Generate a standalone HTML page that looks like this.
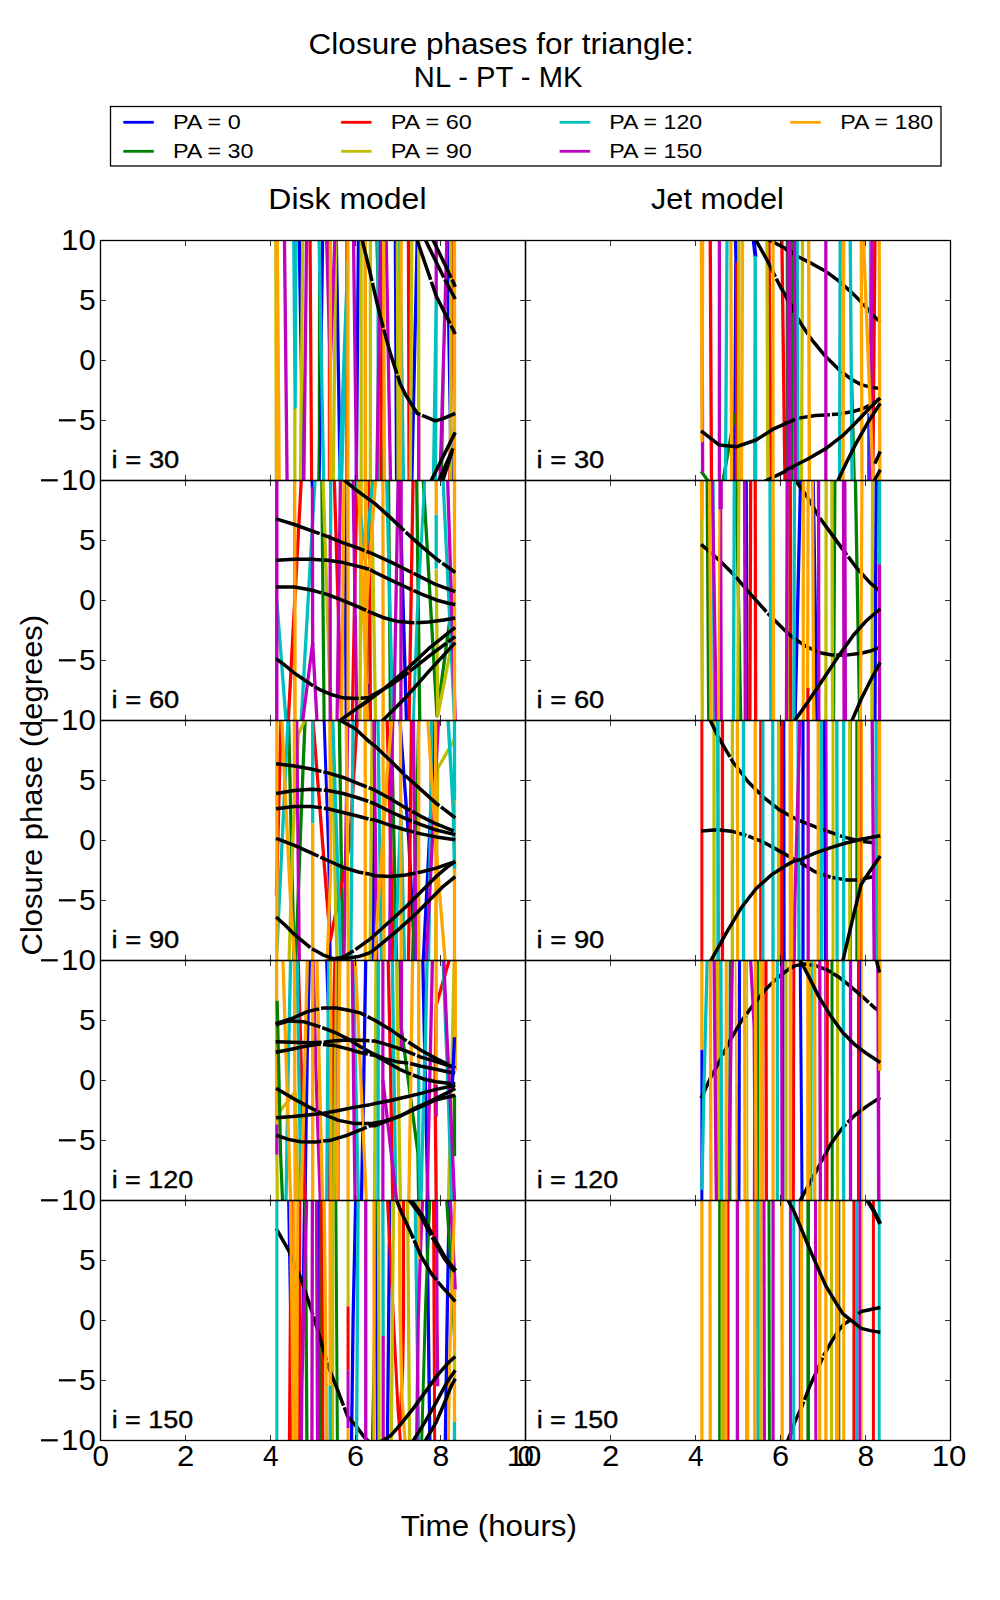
<!DOCTYPE html>
<html><head><meta charset="utf-8"><title>Closure phases</title>
<style>
html,body{margin:0;padding:0;background:#fff;}
body{width:1000px;height:1600px;overflow:hidden;}
svg{display:block;font-family:"Liberation Sans",sans-serif;}
text{fill:#000;}
.ln{fill:none;stroke-linejoin:round;stroke-linecap:butt;}
</style></head><body>
<svg width="1000" height="1600" viewBox="0 0 1000 1600">
<rect x="0" y="0" width="1000" height="1600" fill="#fff"/>

<defs>
<clipPath id="cp00"><rect x="100.5" y="240.5" width="425" height="240"/></clipPath>
<clipPath id="cp01"><rect x="525.5" y="240.5" width="425" height="240"/></clipPath>
<clipPath id="cp10"><rect x="100.5" y="480.5" width="425" height="240"/></clipPath>
<clipPath id="cp11"><rect x="525.5" y="480.5" width="425" height="240"/></clipPath>
<clipPath id="cp20"><rect x="100.5" y="720.5" width="425" height="240"/></clipPath>
<clipPath id="cp21"><rect x="525.5" y="720.5" width="425" height="240"/></clipPath>
<clipPath id="cp30"><rect x="100.5" y="960.5" width="425" height="240"/></clipPath>
<clipPath id="cp31"><rect x="525.5" y="960.5" width="425" height="240"/></clipPath>
<clipPath id="cp40"><rect x="100.5" y="1200.5" width="425" height="240"/></clipPath>
<clipPath id="cp41"><rect x="525.5" y="1200.5" width="425" height="240"/></clipPath>
</defs>
<text x="308.62" y="54.4" font-size="28.6" textLength="385.27" lengthAdjust="spacingAndGlyphs">Closure phases for triangle:</text>
<text x="413.87" y="87.2" font-size="28.6" textLength="168.53" lengthAdjust="spacingAndGlyphs">NL - PT - MK</text>
<text x="268.34" y="208.5" font-size="28.6" textLength="158.17" lengthAdjust="spacingAndGlyphs">Disk model</text>
<text x="651.04" y="208.5" font-size="28.6" textLength="132.87" lengthAdjust="spacingAndGlyphs">Jet model</text>
<rect x="110.5" y="106.5" width="830.5" height="59.5" fill="#fff" stroke="#000" stroke-width="1.3"/>
<line x1="123.3" y1="122.3" x2="153.8" y2="122.3" stroke="#0000ff" stroke-width="2.8"/>
<text x="172.93" y="129.4" font-size="20.4" textLength="67.8" lengthAdjust="spacingAndGlyphs">PA = 0</text>
<line x1="123.3" y1="151.3" x2="153.8" y2="151.3" stroke="#008000" stroke-width="2.8"/>
<text x="172.93" y="158.4" font-size="20.4" textLength="80.62" lengthAdjust="spacingAndGlyphs">PA = 30</text>
<line x1="341.1" y1="122.3" x2="371.6" y2="122.3" stroke="#ff0000" stroke-width="2.8"/>
<text x="390.72" y="129.4" font-size="20.4" textLength="81.03" lengthAdjust="spacingAndGlyphs">PA = 60</text>
<line x1="341.1" y1="151.3" x2="371.6" y2="151.3" stroke="#bfbf00" stroke-width="2.8"/>
<text x="390.72" y="158.4" font-size="20.4" textLength="81.03" lengthAdjust="spacingAndGlyphs">PA = 90</text>
<line x1="559.6" y1="122.3" x2="590.1" y2="122.3" stroke="#00bfbf" stroke-width="2.8"/>
<text x="609.25" y="129.4" font-size="20.4" textLength="92.93" lengthAdjust="spacingAndGlyphs">PA = 120</text>
<line x1="559.6" y1="151.3" x2="590.1" y2="151.3" stroke="#bf00bf" stroke-width="2.8"/>
<text x="609.25" y="158.4" font-size="20.4" textLength="92.93" lengthAdjust="spacingAndGlyphs">PA = 150</text>
<line x1="790.2" y1="122.3" x2="820.7" y2="122.3" stroke="#ffa500" stroke-width="2.8"/>
<text x="840.25" y="129.4" font-size="20.4" textLength="92.93" lengthAdjust="spacingAndGlyphs">PA = 180</text>
<text x="400.67" y="1535.6" font-size="28.6" textLength="176.27" lengthAdjust="spacingAndGlyphs">Time (hours)</text>
<text transform="translate(42,953.9) rotate(-90)" x="-1.55" y="0" font-size="28.6" textLength="340.59" lengthAdjust="spacingAndGlyphs">Closure phase (degrees)</text>
<g clip-path="url(#cp00)">
<polyline class="ln" points="299.2,236.29 303.3,483.62" stroke="#0000ff" stroke-width="3.3"/>
<polyline class="ln" points="322.65,236.29 319.03,483.62" stroke="#0000ff" stroke-width="3.3"/>
<polyline class="ln" points="336.25,236.29 340.19,483.62" stroke="#0000ff" stroke-width="3.3"/>
<polyline class="ln" points="358.45,236.29 356.24,483.62" stroke="#0000ff" stroke-width="3.3"/>
<polyline class="ln" points="395.35,236.29 396.61,483.62" stroke="#0000ff" stroke-width="3.3"/>
<polyline class="ln" points="417.25,236.29 411.74,483.62" stroke="#0000ff" stroke-width="3.3"/>
<polyline class="ln" points="447.12,236.29 451.53,483.62" stroke="#0000ff" stroke-width="3.3"/>
<polyline class="ln" points="318.79,236.29 318.47,483.62" stroke="#008000" stroke-width="1.5"/>
<polyline class="ln" points="375.89,236.29 382.98,483.62" stroke="#008000" stroke-width="1.5"/>
<polyline class="ln" points="444.6,329.46 442.26,483.62" stroke="#008000" stroke-width="1.5"/>
<polyline class="ln" points="310.07,236.29 311.64,483.62" stroke="#ff0000" stroke-width="3.2"/>
<polyline class="ln" points="329.45,236.29 329.45,483.62" stroke="#ff0000" stroke-width="3.3"/>
<polyline class="ln" points="346.98,236.29 346.98,483.62" stroke="#ff0000" stroke-width="3.3"/>
<polyline class="ln" points="364.51,236.29 364.51,483.62" stroke="#ff0000" stroke-width="1.5"/>
<polyline class="ln" points="382.9,236.29 380.54,483.62" stroke="#ff0000" stroke-width="3.3"/>
<polyline class="ln" points="408.47,236.29 409.1,483.62" stroke="#ff0000" stroke-width="3.3"/>
<polyline class="ln" points="452.73,236.29 449.89,483.62" stroke="#ff0000" stroke-width="3.3"/>
<polyline class="ln" points="275.78,236.29 276.41,483.62" stroke="#bfbf00" stroke-width="3.3"/>
<polyline class="ln" points="294.85,407.21 294.85,483.62" stroke="#bfbf00" stroke-width="3.3"/>
<polyline class="ln" points="302.81,236.29 300.45,483.62" stroke="#bfbf00" stroke-width="3.3"/>
<polyline class="ln" points="335.9,236.29 333.22,483.62" stroke="#bfbf00" stroke-width="3.3"/>
<polyline class="ln" points="361.16,236.29 361.16,483.62" stroke="#bfbf00" stroke-width="3.2"/>
<polyline class="ln" points="370.37,236.29 370.37,483.62" stroke="#bfbf00" stroke-width="3.3"/>
<polyline class="ln" points="397.33,236.29 398.12,483.62" stroke="#bfbf00" stroke-width="3.3"/>
<polyline class="ln" points="411.85,236.29 410.28,483.62" stroke="#bfbf00" stroke-width="3.3"/>
<polyline class="ln" points="418.69,236.29 418.69,483.62" stroke="#bfbf00" stroke-width="3.3"/>
<polyline class="ln" points="450.7,236.29 450.7,483.62" stroke="#bfbf00" stroke-width="3.3"/>
<polyline class="ln" points="293.75,236.29 295.15,407.21 295.93,236.29" stroke="#00bfbf" stroke-width="3.3"/>
<polyline class="ln" points="319.01,236.29 323.73,483.62" stroke="#00bfbf" stroke-width="3.3"/>
<polyline class="ln" points="339.21,483.62 347.74,261.63 341.53,483.62" stroke="#00bfbf" stroke-width="3.3"/>
<polyline class="ln" points="377.98,236.29 378.3,483.62" stroke="#00bfbf" stroke-width="3.3"/>
<polyline class="ln" points="399.88,236.29 403.5,483.62" stroke="#00bfbf" stroke-width="3.3"/>
<polyline class="ln" points="433.41,483.62 436.22,298.98 435.44,483.62" stroke="#00bfbf" stroke-width="3.3"/>
<polyline class="ln" points="284.44,236.29 287.12,483.62" stroke="#bf00bf" stroke-width="3.3"/>
<polyline class="ln" points="306.63,236.29 303.8,483.62" stroke="#bf00bf" stroke-width="3.3"/>
<polyline class="ln" points="326.6,236.29 330.21,367.57 334.93,236.29" stroke="#bf00bf" stroke-width="3.3"/>
<polyline class="ln" points="353.49,236.29 356.64,483.62" stroke="#bf00bf" stroke-width="3.3"/>
<polyline class="ln" points="380.64,236.29 376.7,483.62" stroke="#bf00bf" stroke-width="3.3"/>
<polyline class="ln" points="386.15,236.29 390.56,483.62" stroke="#bf00bf" stroke-width="3.3"/>
<polyline class="ln" points="418.69,412.24 418.69,483.62" stroke="#bf00bf" stroke-width="3.3"/>
<polyline class="ln" points="436.22,236.29 436.22,298.98" stroke="#bf00bf" stroke-width="3.3"/>
<polyline class="ln" points="447,236.29 439.92,483.62" stroke="#bf00bf" stroke-width="3.3"/>
<polyline class="ln" points="276.69,236.29 277.95,483.62" stroke="#ffa500" stroke-width="3.3"/>
<polyline class="ln" points="277.29,236.29 279.18,483.62" stroke="#ffa500" stroke-width="3.3"/>
<polyline class="ln" points="330.37,236.29 330.37,483.62" stroke="#ffa500" stroke-width="3.3"/>
<polyline class="ln" points="347.9,236.29 347.9,483.62" stroke="#ffa500" stroke-width="3.3"/>
<polyline class="ln" points="365.27,236.29 365.58,483.62" stroke="#ffa500" stroke-width="3.3"/>
<polyline class="ln" points="383.62,236.29 384.4,483.62" stroke="#ffa500" stroke-width="3.3"/>
<polyline class="ln" points="401.17,236.29 400.38,483.62" stroke="#ffa500" stroke-width="3.3"/>
<polyline class="ln" points="454.51,236.29 454.51,483.62" stroke="#ffa500" stroke-width="3.3"/>
<polyline class="ln" points="361.31,236.29 369.15,268.49 376.77,302.02 382.87,326.41 390.49,353.85 400.4,384.34 405.73,395.01 417.16,413.3 435.46,420.93 443.08,418.64 455.27,413.3" stroke="#000000" stroke-width="3.5" stroke-dasharray="46 2"/>
<polyline class="ln" points="415.79,236.29 436.22,295.93 455.27,334.04" stroke="#000000" stroke-width="3.5" stroke-dasharray="46 2"/>
<polyline class="ln" points="423.59,236.29 444.6,279.16 455.27,298.98" stroke="#000000" stroke-width="3.5" stroke-dasharray="46 2"/>
<polyline class="ln" points="431.23,236.29 445.37,265.44 455.27,286.78" stroke="#000000" stroke-width="3.5" stroke-dasharray="46 2"/>
<polyline class="ln" points="429.65,483.62 455.27,432.36" stroke="#000000" stroke-width="3.5"/>
<polyline class="ln" points="437.51,483.62 452.99,448.37" stroke="#000000" stroke-width="3.5"/>
<polyline class="ln" points="441.78,483.62 452.23,451.41" stroke="#000000" stroke-width="3.5"/>
</g>
<text x="111.62" y="468.1" font-size="24.2" textLength="67.71" lengthAdjust="spacingAndGlyphs" stroke="#000" stroke-width="0.35">i = 30</text>
<g clip-path="url(#cp01)">
<polyline class="ln" points="735.43,236.29 736.16,260.87" stroke="#0000ff" stroke-width="3.5"/>
<polyline class="ln" points="735.85,260.87 734.61,483.62" stroke="#0000ff" stroke-width="3.3"/>
<polyline class="ln" points="753.25,236.29 755.52,257.05" stroke="#0000ff" stroke-width="4"/>
<polyline class="ln" points="868.08,413.3 868.08,483.62" stroke="#0000ff" stroke-width="1.5"/>
<polyline class="ln" points="701.1,471.23 710.1,483.62" stroke="#008000" stroke-width="3.3"/>
<polyline class="ln" points="734.94,413.3 722.49,483.62" stroke="#008000" stroke-width="3.3"/>
<polyline class="ln" points="786.46,236.29 786.46,483.62" stroke="#008000" stroke-width="1.5"/>
<polyline class="ln" points="792.26,236.29 791.95,483.62" stroke="#008000" stroke-width="3.3"/>
<polyline class="ln" points="852.07,375.2 854.92,483.62" stroke="#008000" stroke-width="2"/>
<polyline class="ln" points="710.22,236.29 711.48,483.62" stroke="#ff0000" stroke-width="3.3"/>
<polyline class="ln" points="736.92,262.39 736.45,483.62" stroke="#ff0000" stroke-width="3.3"/>
<polyline class="ln" points="768.89,236.29 771.26,483.62" stroke="#ff0000" stroke-width="3.3"/>
<polyline class="ln" points="781.84,236.29 784.99,483.62" stroke="#ff0000" stroke-width="3.3"/>
<polyline class="ln" points="874.97,236.29 872.77,483.62" stroke="#ff0000" stroke-width="3.3"/>
<polyline class="ln" points="738.91,236.29 738.44,483.62" stroke="#bfbf00" stroke-width="3.3"/>
<polyline class="ln" points="766.94,236.29 767.88,483.62" stroke="#bfbf00" stroke-width="3.3"/>
<polyline class="ln" points="802.55,236.29 801.45,483.62" stroke="#bfbf00" stroke-width="3.3"/>
<polyline class="ln" points="753.74,236.29 766.65,259.34 780.37,286.78 795,311.17" stroke="#000000" stroke-width="3.5" stroke-dasharray="46 2"/>
<polyline class="ln" points="761.88,236.29 795,253.24" stroke="#000000" stroke-width="3.5" stroke-dasharray="46 2"/>
<polyline class="ln" points="759.89,483.62 795,466.66" stroke="#000000" stroke-width="3.5" stroke-dasharray="46 2"/>
<polyline class="ln" points="785,248.67 798.72,257.05 812.44,263.91 826.16,271.54 838.35,280.68 852.07,292.88 864.27,305.07 873.41,315.74 880.27,321.84" stroke="#000000" stroke-width="3.5" stroke-dasharray="46 2"/>
<polyline class="ln" points="785,294.4 792.62,309.65 801.77,324.89 810.91,338.61 824.63,355.38 838.35,369.1 852.07,379.77 861.22,384.65 870.37,387.09 880.27,388.61" stroke="#000000" stroke-width="3.5" stroke-dasharray="46 2"/>
<polyline class="ln" points="785,423.21 800.24,417.88 815.49,415.59 838.35,414.07 852.07,411.78 862.74,408.73 870.37,404.92 880.27,398.06" stroke="#000000" stroke-width="3.5" stroke-dasharray="46 2"/>
<polyline class="ln" points="727.04,236.29 725.46,483.62" stroke="#00bfbf" stroke-width="3.3"/>
<polyline class="ln" points="754.75,483.62 755.21,257.05 755.68,483.62" stroke="#00bfbf" stroke-width="3.3"/>
<polyline class="ln" points="797.18,236.29 797.97,483.62" stroke="#00bfbf" stroke-width="3.3"/>
<polyline class="ln" points="840.19,236.29 839.56,483.62" stroke="#00bfbf" stroke-width="3.3"/>
<polyline class="ln" points="850.21,236.29 852.1,483.62" stroke="#00bfbf" stroke-width="3.3"/>
<polyline class="ln" points="869.6,236.29 869.6,344.71" stroke="#00bfbf" stroke-width="1.5"/>
<polyline class="ln" points="702,236.29 702.62,472.76" stroke="#bf00bf" stroke-width="3.3"/>
<polyline class="ln" points="719.39,236.29 719.39,483.62" stroke="#bf00bf" stroke-width="3.3"/>
<polyline class="ln" points="788.29,236.29 788.29,483.62" stroke="#bf00bf" stroke-width="3.3"/>
<polyline class="ln" points="790.27,236.29 790.27,483.62" stroke="#bf00bf" stroke-width="3.3"/>
<polyline class="ln" points="794.44,236.29 795.38,483.62" stroke="#bf00bf" stroke-width="3.3"/>
<polyline class="ln" points="825.85,236.29 825.85,483.62" stroke="#bf00bf" stroke-width="3.3"/>
<polyline class="ln" points="871.92,236.29 870.34,483.62" stroke="#bf00bf" stroke-width="3.3"/>
<polyline class="ln" points="701.39,236.29 702.01,440.74 702.63,236.29" stroke="#ffa500" stroke-width="3.3"/>
<polyline class="ln" points="730.81,236.29 731.6,483.62" stroke="#ffa500" stroke-width="3.3"/>
<polyline class="ln" points="742.58,236.29 741.48,483.62" stroke="#ffa500" stroke-width="3.3"/>
<polyline class="ln" points="773.05,236.29 773.05,483.62" stroke="#ffa500" stroke-width="3.2"/>
<polyline class="ln" points="808.62,236.29 809.4,483.62" stroke="#ffa500" stroke-width="3.4"/>
<polyline class="ln" points="843.7,236.29 842.91,483.62" stroke="#ffa500" stroke-width="3.4"/>
<polyline class="ln" points="861.21,236.29 861.99,483.62" stroke="#ffa500" stroke-width="3.3"/>
<polyline class="ln" points="863.35,236.29 873.27,483.62" stroke="#ffa500" stroke-width="3.3"/>
<polyline class="ln" points="879.2,236.29 879.83,483.62" stroke="#ffa500" stroke-width="3.3"/>
<polyline class="ln" points="701.1,430.84 719.39,445.01 736.16,446.84 755.98,439.98 774.27,428.55 795,419.4" stroke="#000000" stroke-width="3.5"/>
<polyline class="ln" points="785,470.47 807.87,459.04 826.16,448.37 842.93,435.41 856.65,421.69 870.37,407.21 880.27,398.06" stroke="#000000" stroke-width="3.5"/>
<polyline class="ln" points="836.45,483.62 845.98,463.61 856.65,442.27 868.84,420.93 880.27,403.4" stroke="#000000" stroke-width="3.5"/>
<polyline class="ln" points="874.94,463.61 880.27,451.41" stroke="#000000" stroke-width="3.5"/>
<polyline class="ln" points="872.79,483.62 880.27,469.71" stroke="#000000" stroke-width="3.5"/>
</g>
<text x="536.62" y="468.1" font-size="24.2" textLength="67.71" lengthAdjust="spacingAndGlyphs" stroke="#000" stroke-width="0.35">i = 30</text>
<g clip-path="url(#cp10)">
<polyline class="ln" points="276.1,476.29 276.1,724.38" stroke="#0000ff" stroke-width="1.5"/>
<polyline class="ln" points="311.7,476.29 312.38,488.67" stroke="#0000ff" stroke-width="3"/>
<polyline class="ln" points="344.67,476.29 346.24,724.38" stroke="#0000ff" stroke-width="3.2"/>
<polyline class="ln" points="367.62,683.79 367.96,724.38" stroke="#0000ff" stroke-width="3.3"/>
<polyline class="ln" points="399.21,476.29 406.61,724.38" stroke="#0000ff" stroke-width="3.4"/>
<polyline class="ln" points="321.79,476.29 324.15,724.38" stroke="#008000" stroke-width="3.2"/>
<polyline class="ln" points="367.56,615.2 365.98,724.38" stroke="#008000" stroke-width="3.3"/>
<polyline class="ln" points="388.47,476.29 390.52,724.38" stroke="#008000" stroke-width="3.3"/>
<polyline class="ln" points="416.66,476.29 419.81,724.38" stroke="#008000" stroke-width="3.3"/>
<polyline class="ln" points="423.03,476.29 436.98,715.8 454.51,584.71" stroke="#008000" stroke-width="3.3"/>
<polyline class="ln" points="293.77,476.29 294.4,724.38" stroke="#ff0000" stroke-width="1.5"/>
<polyline class="ln" points="301.47,476.29 288.08,724.38" stroke="#ff0000" stroke-width="3.3"/>
<polyline class="ln" points="334.21,476.29 341.77,724.38" stroke="#ff0000" stroke-width="3.3"/>
<polyline class="ln" points="356.97,476.29 352.24,724.38" stroke="#ff0000" stroke-width="3.3"/>
<polyline class="ln" points="369.13,476.29 370.39,724.38" stroke="#ff0000" stroke-width="3.3"/>
<polyline class="ln" points="413.11,476.29 409.02,724.38" stroke="#ff0000" stroke-width="3.3"/>
<polyline class="ln" points="322.92,476.29 331.11,724.38" stroke="#bfbf00" stroke-width="3.3"/>
<polyline class="ln" points="361.18,476.29 359.92,724.38" stroke="#bfbf00" stroke-width="3.3"/>
<polyline class="ln" points="371.36,476.29 375.62,724.38" stroke="#bfbf00" stroke-width="3.3"/>
<polyline class="ln" points="436.22,569.46 437.74,715.8 451.46,645.68" stroke="#bfbf00" stroke-width="3.3"/>
<polyline class="ln" points="276.86,601.48 286.31,724.38" stroke="#00bfbf" stroke-width="3.3"/>
<polyline class="ln" points="315.2,476.29 301.02,724.38" stroke="#00bfbf" stroke-width="3.3"/>
<polyline class="ln" points="330.67,476.29 330.67,534.4" stroke="#00bfbf" stroke-width="3.3"/>
<polyline class="ln" points="356.48,476.29 365.27,561.08 373.27,476.29" stroke="#00bfbf" stroke-width="3.3"/>
<polyline class="ln" points="386.58,476.29 392.88,724.38" stroke="#00bfbf" stroke-width="3.3"/>
<polyline class="ln" points="425.01,476.29 417.16,615.2 413.21,724.38" stroke="#00bfbf" stroke-width="3"/>
<polyline class="ln" points="436.22,514.59 436.22,568.7" stroke="#00bfbf" stroke-width="3.3"/>
<polyline class="ln" points="442.89,476.29 454.7,724.38" stroke="#00bfbf" stroke-width="3.3"/>
<polyline class="ln" points="276.86,476.29 276.86,724.38" stroke="#bf00bf" stroke-width="3.3"/>
<polyline class="ln" points="312.38,487.15 312.68,645.68" stroke="#bf00bf" stroke-width="3.3"/>
<polyline class="ln" points="302.26,724.38 312.68,642.63 317.17,724.38" stroke="#bf00bf" stroke-width="3.3"/>
<polyline class="ln" points="330.21,534.4 330.21,724.38" stroke="#bf00bf" stroke-width="3.3"/>
<polyline class="ln" points="340.48,476.29 337.02,724.38" stroke="#bf00bf" stroke-width="3.3"/>
<polyline class="ln" points="353.02,476.29 356.95,724.38" stroke="#bf00bf" stroke-width="3.3"/>
<polyline class="ln" points="398.18,476.29 393.77,724.38" stroke="#bf00bf" stroke-width="3.3"/>
<polyline class="ln" points="401.16,476.29 400.85,724.38" stroke="#bf00bf" stroke-width="3.3"/>
<polyline class="ln" points="447.53,476.29 455.4,724.38" stroke="#bf00bf" stroke-width="3.3"/>
<polyline class="ln" points="294.69,476.29 295.16,724.38" stroke="#ffa500" stroke-width="3.3"/>
<polyline class="ln" points="343.97,476.29 341.61,724.38" stroke="#ffa500" stroke-width="3.3"/>
<polyline class="ln" points="348.05,476.29 348.05,724.38" stroke="#ffa500" stroke-width="3.3"/>
<polyline class="ln" points="358.26,476.29 367.71,724.38" stroke="#ffa500" stroke-width="3.4"/>
<polyline class="ln" points="365.33,476.29 365.8,724.38" stroke="#ffa500" stroke-width="3.3"/>
<polyline class="ln" points="375.84,476.29 366.86,599.95 364.5,724.38" stroke="#ffa500" stroke-width="3.3"/>
<polyline class="ln" points="382.86,476.29 383.18,724.38" stroke="#ffa500" stroke-width="3.3"/>
<polyline class="ln" points="436.22,476.29 436.22,514.59" stroke="#ffa500" stroke-width="3.3"/>
<polyline class="ln" points="454.51,476.29 454.51,724.38" stroke="#ffa500" stroke-width="3.3"/>
<polyline class="ln" points="276.1,518.85 294.39,524.49 311.16,530.59 327.93,536.69 343.17,542.79 358.41,548.12 370,552.7" stroke="#000000" stroke-width="3.5" stroke-dasharray="46 2"/>
<polyline class="ln" points="276.1,560.32 294.39,559.25 311.16,559.25 327.93,560.32 343.17,562.6 358.41,566.41 370,569.46" stroke="#000000" stroke-width="3.5" stroke-dasharray="46 2"/>
<polyline class="ln" points="276.1,586.99 294.39,586.99 311.16,590.04 327.93,594.62 343.17,600.71 358.41,606.81 370,612.15" stroke="#000000" stroke-width="3.5" stroke-dasharray="46 2"/>
<polyline class="ln" points="276.1,658.64 285.24,665.5 294.39,673.12 311.16,684.55 320.3,689.89 330.98,694.46 343.17,697.82 355.37,698.58 370,697.51" stroke="#000000" stroke-width="3.5" stroke-dasharray="46 2"/>
<polyline class="ln" points="341.42,477.81 355.37,489.43 370,500.1" stroke="#000000" stroke-width="3.5" stroke-dasharray="46 2"/>
<polyline class="ln" points="370.06,500.1 375.24,503.91 390.49,517.63 405.73,532.12 420.98,545.84 436.22,558.79 455.27,572.51" stroke="#000000" stroke-width="3.5" stroke-dasharray="46 2"/>
<polyline class="ln" points="370.06,552.7 375.24,554.98 390.49,561.84 405.73,569.46 420.98,577.09 436.22,584.71 455.27,591.57" stroke="#000000" stroke-width="3.5" stroke-dasharray="46 2"/>
<polyline class="ln" points="370.06,569.46 375.24,572.51 390.49,579.83 405.73,586.99 420.98,593.85 436.22,599.95 448.41,603.3 455.27,604.52" stroke="#000000" stroke-width="3.5" stroke-dasharray="46 2"/>
<polyline class="ln" points="370.06,612.15 382.87,617.48 398.11,621.6 413.35,622.82 428.6,622.05 443.84,620.07 455.27,617.94" stroke="#000000" stroke-width="3.5" stroke-dasharray="46 2"/>
<polyline class="ln" points="370.06,697.51 372.2,695.23 390.49,685.32 405.73,674.65 428.6,656.35 455.27,636.54" stroke="#000000" stroke-width="3.5" stroke-dasharray="46 2"/>
<polyline class="ln" points="334.52,724.38 370,699.04" stroke="#000000" stroke-width="3.5"/>
<polyline class="ln" points="360,706.66 382.87,689.89 405.73,670.07 428.6,648.73 455.27,627.39" stroke="#000000" stroke-width="3.5"/>
<polyline class="ln" points="378.87,724.38 405.73,697.51 428.6,671.6 455.27,642.63" stroke="#000000" stroke-width="3.5"/>
</g>
<text x="111.62" y="708.1" font-size="24.2" textLength="67.71" lengthAdjust="spacingAndGlyphs" stroke="#000" stroke-width="0.35">i = 60</text>
<g clip-path="url(#cp11)">
<polyline class="ln" points="746.82,476.29 747.6,724.38" stroke="#0000ff" stroke-width="2"/>
<polyline class="ln" points="800.64,476.29 794.97,724.38" stroke="#0000ff" stroke-width="3.3"/>
<polyline class="ln" points="813.14,476.29 817.08,724.38" stroke="#0000ff" stroke-width="3.3"/>
<polyline class="ln" points="876.18,476.29 874.92,724.38" stroke="#0000ff" stroke-width="3.3"/>
<polyline class="ln" points="707.17,476.29 708.74,724.38" stroke="#008000" stroke-width="3.3"/>
<polyline class="ln" points="736.08,476.29 740.81,724.38" stroke="#008000" stroke-width="3.3"/>
<polyline class="ln" points="834.87,476.29 833.45,724.38" stroke="#008000" stroke-width="3.3"/>
<polyline class="ln" points="855.36,476.29 859.77,724.38" stroke="#008000" stroke-width="3.3"/>
<polyline class="ln" points="701.09,476.29 701.72,724.38" stroke="#ff0000" stroke-width="1.5"/>
<polyline class="ln" points="750.65,476.29 749.87,724.38" stroke="#ff0000" stroke-width="3.3"/>
<polyline class="ln" points="755.21,476.29 755.68,724.38" stroke="#ff0000" stroke-width="3.3"/>
<polyline class="ln" points="790.27,476.29 790.74,724.38" stroke="#ff0000" stroke-width="3.3"/>
<polyline class="ln" points="807.87,687.6 807.87,724.38" stroke="#ff0000" stroke-width="3.2"/>
<polyline class="ln" points="701.85,476.29 702.32,724.38" stroke="#bfbf00" stroke-width="3.3"/>
<polyline class="ln" points="738.92,476.29 737.66,724.38" stroke="#bfbf00" stroke-width="3.2"/>
<polyline class="ln" points="788.29,476.29 788.29,724.38" stroke="#bfbf00" stroke-width="1.5"/>
<polyline class="ln" points="826.16,476.29 825.85,724.38" stroke="#bfbf00" stroke-width="3.3"/>
<polyline class="ln" points="831.94,476.29 832.57,724.38" stroke="#bfbf00" stroke-width="3.3"/>
<polyline class="ln" points="872.67,476.29 871.88,724.38" stroke="#bfbf00" stroke-width="3.3"/>
<polyline class="ln" points="701.1,544.31 719.39,560.32 734.63,575.56 748.35,591.57 768.17,613.67 784.94,630.44 792.56,637.3" stroke="#000000" stroke-width="3.5" stroke-dasharray="46 2"/>
<polyline class="ln" points="792.62,637.3 804.82,645.68 818.54,652.54 830.73,654.83 845.98,655.13 861.22,653.3 870.37,651.02 880.27,647.21" stroke="#000000" stroke-width="3.5" stroke-dasharray="46 2"/>
<polyline class="ln" points="793.58,477.81 807.87,497.82 818.54,516.11 830.73,532.88 842.93,549.65 856.65,567.94 870.37,583.18 880.27,591.11" stroke="#000000" stroke-width="3.5" stroke-dasharray="46 2"/>
<polyline class="ln" points="712.96,476.29 714.38,724.38" stroke="#00bfbf" stroke-width="3.3"/>
<polyline class="ln" points="734.34,476.29 733.4,724.38" stroke="#00bfbf" stroke-width="3.3"/>
<polyline class="ln" points="769.98,476.29 770.93,724.38" stroke="#00bfbf" stroke-width="3.3"/>
<polyline class="ln" points="794.46,476.29 793.83,724.38" stroke="#00bfbf" stroke-width="3.3"/>
<polyline class="ln" points="879.51,476.29 879.51,564.13" stroke="#00bfbf" stroke-width="3.3"/>
<polyline class="ln" points="712.16,476.29 716.41,724.38" stroke="#bf00bf" stroke-width="3.3"/>
<polyline class="ln" points="720.61,476.29 720.61,509.25" stroke="#bf00bf" stroke-width="4.5"/>
<polyline class="ln" points="720.61,509.25 721.23,724.38" stroke="#bf00bf" stroke-width="3.3"/>
<polyline class="ln" points="744.53,476.29 745.32,724.38" stroke="#bf00bf" stroke-width="3.3"/>
<polyline class="ln" points="787.24,476.29 786.45,724.38" stroke="#bf00bf" stroke-width="3.3"/>
<polyline class="ln" points="818.53,476.29 818.85,724.38" stroke="#bf00bf" stroke-width="3.3"/>
<polyline class="ln" points="844.14,476.29 844.77,724.38" stroke="#bf00bf" stroke-width="4.6"/>
<polyline class="ln" points="879.51,564.13 879.51,724.38" stroke="#bf00bf" stroke-width="3.3"/>
<polyline class="ln" points="701.35,476.29 701.86,518.4 702.37,476.29" stroke="#ffa500" stroke-width="3.3"/>
<polyline class="ln" points="709.46,476.29 711.03,724.38" stroke="#ffa500" stroke-width="3.3"/>
<polyline class="ln" points="719.39,510.32 718.3,724.38" stroke="#ffa500" stroke-width="2.2"/>
<polyline class="ln" points="773.04,476.29 773.51,724.38" stroke="#ffa500" stroke-width="3.4"/>
<polyline class="ln" points="803.29,476.29 803.29,724.38" stroke="#ffa500" stroke-width="3.3"/>
<polyline class="ln" points="808.18,476.29 807.56,688.37" stroke="#ffa500" stroke-width="3.3"/>
<polyline class="ln" points="812.42,476.29 813.68,724.38" stroke="#ffa500" stroke-width="3.3"/>
<polyline class="ln" points="862.01,476.29 860.43,724.38" stroke="#ffa500" stroke-width="3.2"/>
<polyline class="ln" points="792.08,724.38 807.87,702.09 823.11,679.22 838.35,656.35 853.6,635.01 865.79,621.29 880.27,608.79" stroke="#000000" stroke-width="3.5"/>
<polyline class="ln" points="850.36,724.38 861.22,699.04 870.37,680.74 880.27,662.45" stroke="#000000" stroke-width="3.5"/>
</g>
<text x="536.62" y="708.1" font-size="24.2" textLength="67.71" lengthAdjust="spacingAndGlyphs" stroke="#000" stroke-width="0.35">i = 60</text>
<g clip-path="url(#cp20)">
<polyline class="ln" points="323.98,716.29 328.69,855.2 330.27,964.38" stroke="#0000ff" stroke-width="3"/>
<polyline class="ln" points="374.51,716.29 372.93,964.38" stroke="#0000ff" stroke-width="3.3"/>
<polyline class="ln" points="399.65,716.29 404.21,778.98 408.78,839.95 412.59,916.17 415.42,964.38" stroke="#0000ff" stroke-width="3.3"/>
<polyline class="ln" points="435.19,716.29 428.6,855.2 423.06,964.38" stroke="#0000ff" stroke-width="3.3"/>
<polyline class="ln" points="288.51,716.29 294.18,964.38" stroke="#008000" stroke-width="3.3"/>
<polyline class="ln" points="305.23,716.29 302.01,794.22 297.44,916.17 295.44,964.38" stroke="#008000" stroke-width="3.3"/>
<polyline class="ln" points="339.3,716.29 341.65,885.68 343.25,964.38" stroke="#008000" stroke-width="3.3"/>
<polyline class="ln" points="391.16,716.29 396.67,964.38" stroke="#008000" stroke-width="3.3"/>
<polyline class="ln" points="418.77,716.29 417.16,794.22 412.48,964.38" stroke="#008000" stroke-width="3.3"/>
<polyline class="ln" points="281.08,716.29 276.4,895.59" stroke="#ff0000" stroke-width="3.3"/>
<polyline class="ln" points="312.68,716.29 330.21,940.56 349.57,844.52 357.44,716.29" stroke="#ff0000" stroke-width="3.3"/>
<polyline class="ln" points="387.02,716.29 389.73,809.46 392.01,900.93 392.83,964.38" stroke="#ff0000" stroke-width="3.3"/>
<polyline class="ln" points="411.57,716.29 410.3,824.71 408.42,964.38" stroke="#ff0000" stroke-width="3.3"/>
<polyline class="ln" points="306.57,716.29 298.2,734.77 292.87,839.95 288.93,964.38" stroke="#bfbf00" stroke-width="3.3"/>
<polyline class="ln" points="331.65,716.29 335.85,916.17 337.18,964.38" stroke="#bfbf00" stroke-width="3.3"/>
<polyline class="ln" points="372.23,716.29 370.03,964.38" stroke="#bfbf00" stroke-width="3.3"/>
<polyline class="ln" points="455.27,737.82 437.74,768.3 435.41,964.38" stroke="#bfbf00" stroke-width="3.3"/>
<polyline class="ln" points="454.51,800.32 454.51,964.38" stroke="#ffa500" stroke-width="3.3"/>
<polyline class="ln" points="288.18,716.29 276.86,951.23" stroke="#00bfbf" stroke-width="3.3"/>
<polyline class="ln" points="312.68,716.29 312.68,823.18" stroke="#00bfbf" stroke-width="3.3"/>
<polyline class="ln" points="332.67,716.29 340.86,964.38" stroke="#00bfbf" stroke-width="3.3"/>
<polyline class="ln" points="353.12,716.29 350.75,964.38" stroke="#00bfbf" stroke-width="3.3"/>
<polyline class="ln" points="377.93,716.29 381.4,964.38" stroke="#00bfbf" stroke-width="3.3"/>
<polyline class="ln" points="394.91,964.38 400.85,810.99 404.61,964.38" stroke="#00bfbf" stroke-width="3.3"/>
<polyline class="ln" points="431.69,716.29 430.43,824.71 428.54,964.38" stroke="#00bfbf" stroke-width="3.3"/>
<polyline class="ln" points="447.88,716.29 453.29,809.46 454.51,868.91" stroke="#00bfbf" stroke-width="3.5"/>
<polyline class="ln" points="454.51,716.29 454.51,800.32" stroke="#00bfbf" stroke-width="3.3"/>
<polyline class="ln" points="296.63,716.29 299.31,964.38" stroke="#bf00bf" stroke-width="3.3"/>
<polyline class="ln" points="347.81,716.29 343.87,964.38" stroke="#bf00bf" stroke-width="3.3"/>
<polyline class="ln" points="373.98,716.29 376.81,964.38" stroke="#bf00bf" stroke-width="3.3"/>
<polyline class="ln" points="392.86,716.29 390.49,824.71 389.7,964.38" stroke="#bf00bf" stroke-width="3.3"/>
<polyline class="ln" points="413.31,716.29 414.88,855.2 416.46,964.38" stroke="#bf00bf" stroke-width="3.3"/>
<polyline class="ln" points="438.71,716.29 433.17,824.71 429.36,900.93 426.11,964.38" stroke="#bf00bf" stroke-width="3.3"/>
<polyline class="ln" points="276.86,716.29 276.86,964.38" stroke="#ffa500" stroke-width="3.3"/>
<polyline class="ln" points="281.7,716.29 286.77,824.71 290.58,900.93 294.97,964.38" stroke="#ffa500" stroke-width="3.3"/>
<polyline class="ln" points="294.39,716.29 294.39,809.46" stroke="#ffa500" stroke-width="3.3"/>
<polyline class="ln" points="312.68,823.18 312.68,964.38" stroke="#ffa500" stroke-width="3.3"/>
<polyline class="ln" points="329.73,716.29 330.67,870.44 327.01,964.38" stroke="#ffa500" stroke-width="3.2"/>
<polyline class="ln" points="346.18,716.29 348.54,964.38" stroke="#ffa500" stroke-width="3.3"/>
<polyline class="ln" points="365.27,716.29 365.27,964.38" stroke="#ffa500" stroke-width="3.3"/>
<polyline class="ln" points="382.85,716.29 384.11,964.38" stroke="#ffa500" stroke-width="3.3"/>
<polyline class="ln" points="392.05,716.29 386.68,778.98 382.87,839.95 378.29,900.93 374.71,964.38" stroke="#ffa500" stroke-width="3.3"/>
<polyline class="ln" points="400.38,716.29 401.17,964.38" stroke="#ffa500" stroke-width="3.3"/>
<polyline class="ln" points="418.69,716.29 418.69,964.38" stroke="#ffa500" stroke-width="3.3"/>
<polyline class="ln" points="427.57,716.29 437.74,870.44 445.39,964.38" stroke="#ffa500" stroke-width="3.3"/>
<polyline class="ln" points="435.44,716.29 436.23,964.38" stroke="#ffa500" stroke-width="3.3"/>
<polyline class="ln" points="276.1,763.73 294.39,766.02 311.16,769.07 327.93,772.88 343.17,777.45 358.41,783.55 370,788.12" stroke="#000000" stroke-width="3.5" stroke-dasharray="46 2"/>
<polyline class="ln" points="276.1,793.46 294.39,790.41 311.16,789.34 327.93,790.41 343.17,793.46 358.41,798.03 370,801.84" stroke="#000000" stroke-width="3.5" stroke-dasharray="46 2"/>
<polyline class="ln" points="276.1,808.7 294.39,806.41 311.16,806.41 327.93,808.7 343.17,812.51 358.41,816.32 370,819.37" stroke="#000000" stroke-width="3.5" stroke-dasharray="46 2"/>
<polyline class="ln" points="276.1,838.43 294.39,845.29 311.16,852.91 327.93,860.53 343.17,867.39 358.41,871.96 370,874.25" stroke="#000000" stroke-width="3.5" stroke-dasharray="46 2"/>
<polyline class="ln" points="276.1,916.93 285.24,925.32 294.39,934.46 311.16,948.18 323.35,955.04 334.02,958.85 343.17,957.33 355.37,949.71 370,939.04" stroke="#000000" stroke-width="3.5" stroke-dasharray="46 2"/>
<polyline class="ln" points="332.85,716.29 355.37,728.67 370,742.39" stroke="#000000" stroke-width="3.5" stroke-dasharray="46 2"/>
<polyline class="ln" points="370.06,742.39 375.24,746.2 390.49,760.68 405.73,775.93 420.98,789.65 436.22,803.37 455.27,817.85" stroke="#000000" stroke-width="3.5" stroke-dasharray="46 2"/>
<polyline class="ln" points="370.06,788.12 375.24,790.41 390.49,798.79 405.73,807.94 420.98,816.32 436.22,823.95 455.27,831.57" stroke="#000000" stroke-width="3.5" stroke-dasharray="46 2"/>
<polyline class="ln" points="370.06,801.84 375.24,804.13 390.49,811.75 405.73,818.61 420.98,824.71 436.22,830.04 455.27,834.62" stroke="#000000" stroke-width="3.5" stroke-dasharray="46 2"/>
<polyline class="ln" points="370.06,819.37 375.24,820.13 390.49,825.47 405.73,830.04 420.98,833.85 436.22,836.9 455.27,839.65" stroke="#000000" stroke-width="3.5" stroke-dasharray="46 2"/>
<polyline class="ln" points="370.06,874.25 375.24,875.77 390.49,876.54 405.73,875.01 420.98,871.96 436.22,868.15 446.89,864.34 455.27,861.6" stroke="#000000" stroke-width="3.5" stroke-dasharray="46 2"/>
<polyline class="ln" points="316.5,962.85 358.41,956.57 370,952.76" stroke="#000000" stroke-width="3.5"/>
<polyline class="ln" points="370.06,939.04 375.24,934.46 390.49,920.74 405.73,907.02 420.98,891.78 436.22,876.54 446.89,867.39 455.27,861.6" stroke="#000000" stroke-width="3.5"/>
<polyline class="ln" points="370.06,952.76 379.82,945.13 398.11,929.89 413.35,916.17 428.6,900.93 442.32,887.21 455.27,876.54" stroke="#000000" stroke-width="3.5"/>
</g>
<text x="111.62" y="948.1" font-size="24.2" textLength="67.71" lengthAdjust="spacingAndGlyphs" stroke="#000" stroke-width="0.35">i = 90</text>
<g clip-path="url(#cp21)">
<polyline class="ln" points="783.71,716.29 784.03,964.38" stroke="#0000ff" stroke-width="3.3"/>
<polyline class="ln" points="802.99,716.29 802.99,964.38" stroke="#0000ff" stroke-width="3.2"/>
<polyline class="ln" points="824.31,716.29 825.41,964.38" stroke="#0000ff" stroke-width="3"/>
<polyline class="ln" points="851.31,716.29 851.31,964.38" stroke="#0000ff" stroke-width="1"/>
<polyline class="ln" points="856.95,716.29 856.95,964.38" stroke="#008000" stroke-width="3.3"/>
<polyline class="ln" points="701.86,716.29 701.86,964.38" stroke="#ff0000" stroke-width="3"/>
<polyline class="ln" points="722.44,716.29 722.44,964.38" stroke="#ff0000" stroke-width="3.3"/>
<polyline class="ln" points="760.85,716.29 760.85,964.38" stroke="#ff0000" stroke-width="3.3"/>
<polyline class="ln" points="781.59,716.29 781.59,964.38" stroke="#ff0000" stroke-width="3.3"/>
<polyline class="ln" points="860.76,716.29 860.76,964.38" stroke="#ff0000" stroke-width="3.3"/>
<polyline class="ln" points="714.05,716.29 714.05,964.38" stroke="#bfbf00" stroke-width="3.3"/>
<polyline class="ln" points="732.35,716.29 732.35,964.38" stroke="#bfbf00" stroke-width="3.3"/>
<polyline class="ln" points="778.54,716.29 778.54,964.38" stroke="#bfbf00" stroke-width="3.3"/>
<polyline class="ln" points="833.02,716.29 833.02,964.38" stroke="#bfbf00" stroke-width="3"/>
<polyline class="ln" points="849.79,716.29 849.79,964.38" stroke="#bfbf00" stroke-width="3.3"/>
<polyline class="ln" points="708.34,716.29 717.87,736.29 733.11,762.21 748.35,782.02 763.6,797.27 778.84,809.46 795,818.61" stroke="#000000" stroke-width="3.5" stroke-dasharray="46 2"/>
<polyline class="ln" points="701.1,831.11 717.87,829.74 733.11,831.57 748.35,836.14 763.6,842.24 778.84,850.62 789.51,856.72" stroke="#000000" stroke-width="3.5" stroke-dasharray="46 2"/>
<polyline class="ln" points="795.06,818.61 800.24,820.9 815.49,826.99 830.73,832.33 845.98,837.66 861.22,841.17 873.41,842.7 880.27,843.76" stroke="#000000" stroke-width="3.5" stroke-dasharray="46 2"/>
<polyline class="ln" points="789.57,856.72 800.24,862.82 815.49,871.96 830.73,877.3 845.98,879.89 858.17,879.89 870.37,877.3 880.27,875.01" stroke="#000000" stroke-width="3.5" stroke-dasharray="46 2"/>
<polyline class="ln" points="717.86,716.29 718.18,964.38" stroke="#00bfbf" stroke-width="3.6"/>
<polyline class="ln" points="743.48,716.29 743.48,964.38" stroke="#00bfbf" stroke-width="3.3"/>
<polyline class="ln" points="762.84,716.29 762.84,964.38" stroke="#00bfbf" stroke-width="3.3"/>
<polyline class="ln" points="772.74,716.29 773.05,964.38" stroke="#00bfbf" stroke-width="3.3"/>
<polyline class="ln" points="797.94,716.29 799.04,964.38" stroke="#00bfbf" stroke-width="3.3"/>
<polyline class="ln" points="821.28,716.29 821.59,964.38" stroke="#00bfbf" stroke-width="3.3"/>
<polyline class="ln" points="836.82,716.29 837.14,964.38" stroke="#00bfbf" stroke-width="3.3"/>
<polyline class="ln" points="843.69,716.29 843.69,964.38" stroke="#00bfbf" stroke-width="3.3"/>
<polyline class="ln" points="876.15,716.29 876.47,964.38" stroke="#00bfbf" stroke-width="3.3"/>
<polyline class="ln" points="800.05,716.29 794.91,900.93 794.1,964.38" stroke="#bf00bf" stroke-width="3.3"/>
<polyline class="ln" points="808.17,716.29 808.17,964.38" stroke="#bf00bf" stroke-width="3.3"/>
<polyline class="ln" points="826.45,716.29 827.08,964.38" stroke="#bf00bf" stroke-width="2"/>
<polyline class="ln" points="872.16,716.29 874.21,964.38" stroke="#bf00bf" stroke-width="3.3"/>
<polyline class="ln" points="737.37,716.29 737.69,964.38" stroke="#ffa500" stroke-width="3.3"/>
<polyline class="ln" points="755.21,716.29 755.21,964.38" stroke="#ffa500" stroke-width="3.3"/>
<polyline class="ln" points="790.73,716.29 791.04,964.38" stroke="#ffa500" stroke-width="4.6"/>
<polyline class="ln" points="818.23,716.29 818.23,964.38" stroke="#ffa500" stroke-width="3.3"/>
<polyline class="ln" points="858.93,716.29 858.93,964.38" stroke="#ffa500" stroke-width="3.3"/>
<polyline class="ln" points="862.13,716.29 862.13,964.38" stroke="#ffa500" stroke-width="1.5"/>
<polyline class="ln" points="879.51,716.29 879.51,964.38" stroke="#ffa500" stroke-width="3.3"/>
<polyline class="ln" points="708.77,964.38 725.49,934.46 740.73,908.55 755.98,888.73 771.22,875.01 786.46,865.1 795,860.53" stroke="#000000" stroke-width="3.5"/>
<polyline class="ln" points="795.06,860.53 800.24,859.77 815.49,852.91 830.73,847.57 845.98,843 861.22,839.19 880.27,835.68" stroke="#000000" stroke-width="3.5"/>
<polyline class="ln" points="841.99,964.38 849.02,934.46 855.12,908.55 861.22,884.16 870.37,870.44 880.27,855.96" stroke="#000000" stroke-width="3.5"/>
</g>
<text x="536.62" y="948.1" font-size="24.2" textLength="67.71" lengthAdjust="spacingAndGlyphs" stroke="#000" stroke-width="0.35">i = 90</text>
<g clip-path="url(#cp30)">
<polyline class="ln" points="309.42,956.29 307.35,1049.46 305.82,1140.93 305.01,1204.38" stroke="#0000ff" stroke-width="3.3"/>
<polyline class="ln" points="326.57,956.29 335.39,1204.38" stroke="#0000ff" stroke-width="3.3"/>
<polyline class="ln" points="365.8,956.29 363.75,1079.95 361.39,1204.38" stroke="#0000ff" stroke-width="3.3"/>
<polyline class="ln" points="422.72,956.29 427.92,1204.38" stroke="#0000ff" stroke-width="3.3"/>
<polyline class="ln" points="335.29,956.29 332.14,1204.38" stroke="#008000" stroke-width="3.3"/>
<polyline class="ln" points="399.87,956.29 401.16,1026.6 417.93,1153.12 418.75,1204.38" stroke="#008000" stroke-width="3.3"/>
<polyline class="ln" points="298.09,956.29 305.18,1204.38" stroke="#ff0000" stroke-width="3.3"/>
<polyline class="ln" points="335.38,956.29 333.26,1018.98 330.98,1095.2 328.6,1204.38" stroke="#ff0000" stroke-width="3.3"/>
<polyline class="ln" points="388.11,956.29 390.49,1064.71 392.84,1204.38" stroke="#ff0000" stroke-width="3.3"/>
<polyline class="ln" points="450.33,956.29 436.22,1005.26 435,1079.95 436.26,1204.38" stroke="#ff0000" stroke-width="3.3"/>
<polyline class="ln" points="276.86,1154.65 277.36,1204.38" stroke="#bfbf00" stroke-width="3.2"/>
<polyline class="ln" points="276.86,1115.01 295.15,1092.15 298.31,1204.38" stroke="#bfbf00" stroke-width="3.3"/>
<polyline class="ln" points="336.81,956.29 333.98,1204.38" stroke="#bfbf00" stroke-width="3.3"/>
<polyline class="ln" points="376.03,956.29 374.46,1204.38" stroke="#bfbf00" stroke-width="3.3"/>
<polyline class="ln" points="396.53,956.29 398.11,1064.71 400.46,1204.38" stroke="#bfbf00" stroke-width="3.3"/>
<polyline class="ln" points="454.3,956.29 452.23,1049.46 449.94,1140.93 448.31,1204.38" stroke="#bfbf00" stroke-width="3.3"/>
<polyline class="ln" points="290.67,956.29 288.29,1064.71 285.94,1204.38" stroke="#00bfbf" stroke-width="3.3"/>
<polyline class="ln" points="297.07,956.29 298.96,1079.95 301.33,1204.38" stroke="#00bfbf" stroke-width="3.3"/>
<polyline class="ln" points="328.72,956.29 327.62,1079.95 326.68,1204.38" stroke="#00bfbf" stroke-width="3.3"/>
<polyline class="ln" points="352.99,956.29 358.5,1204.38" stroke="#00bfbf" stroke-width="3.3"/>
<polyline class="ln" points="378.3,956.29 377.98,1204.38" stroke="#00bfbf" stroke-width="3.3"/>
<polyline class="ln" points="392.26,956.29 394.3,1095.2 395.88,1204.38" stroke="#00bfbf" stroke-width="3.3"/>
<polyline class="ln" points="418.69,1063.18 418.69,1140.93 420.32,1204.38" stroke="#00bfbf" stroke-width="3.3"/>
<polyline class="ln" points="427.16,956.29 425.55,1034.22 423.26,1110.44 420.87,1204.38" stroke="#00bfbf" stroke-width="3.3"/>
<polyline class="ln" points="442.93,956.29 447.65,1079.95 451.91,1204.38" stroke="#00bfbf" stroke-width="3.3"/>
<polyline class="ln" points="276.86,1124.16 276.86,1154.65" stroke="#bf00bf" stroke-width="3.3"/>
<polyline class="ln" points="313.04,956.29 315.73,1064.71 318.78,1156.17 320.44,1204.38" stroke="#bf00bf" stroke-width="3.3"/>
<polyline class="ln" points="338.61,956.29 337.82,1204.38" stroke="#bf00bf" stroke-width="3.3"/>
<polyline class="ln" points="352.28,956.29 353.54,1079.95 355.11,1204.38" stroke="#bf00bf" stroke-width="3.3"/>
<polyline class="ln" points="382.87,956.29 382.87,1204.38" stroke="#bf00bf" stroke-width="3.2"/>
<polyline class="ln" points="382.87,1079.95 397.04,1204.38" stroke="#bf00bf" stroke-width="3.3"/>
<polyline class="ln" points="401.48,956.29 401.16,1049.46" stroke="#bf00bf" stroke-width="3.3"/>
<polyline class="ln" points="432.5,956.29 430.12,1064.71 426.98,1204.38" stroke="#bf00bf" stroke-width="3.3"/>
<polyline class="ln" points="436.22,1084.52 436.22,1116.54" stroke="#bf00bf" stroke-width="3.3"/>
<polyline class="ln" points="443.68,956.29 446.89,1034.22 450.7,1110.44 454.68,1204.38" stroke="#bf00bf" stroke-width="3.3"/>
<polyline class="ln" points="276.55,956.29 276.55,1124.16" stroke="#ffa500" stroke-width="3.3"/>
<polyline class="ln" points="282.83,956.29 286.77,1079.95 290.71,1204.38" stroke="#ffa500" stroke-width="3.3"/>
<polyline class="ln" points="294.38,956.29 295.17,1204.38" stroke="#ffa500" stroke-width="3.3"/>
<polyline class="ln" points="307.45,956.29 304.3,1079.95 301.15,1204.38" stroke="#ffa500" stroke-width="3.3"/>
<polyline class="ln" points="312.68,956.29 312.68,1204.38" stroke="#ffa500" stroke-width="3.3"/>
<polyline class="ln" points="316.86,956.29 319.54,1079.95 322.69,1204.38" stroke="#ffa500" stroke-width="3.3"/>
<polyline class="ln" points="330.67,956.29 330.98,1204.38" stroke="#ffa500" stroke-width="3.3"/>
<polyline class="ln" points="339.86,956.29 337.03,1204.38" stroke="#ffa500" stroke-width="3.3"/>
<polyline class="ln" points="348.05,956.29 348.05,1204.38" stroke="#ffa500" stroke-width="3.2"/>
<polyline class="ln" points="355.18,956.29 366.52,1204.38" stroke="#ffa500" stroke-width="3.2"/>
<polyline class="ln" points="412.65,956.29 411.07,1064.71 408.71,1204.38" stroke="#ffa500" stroke-width="3.3"/>
<polyline class="ln" points="418.69,956.29 418.69,1063.18" stroke="#ffa500" stroke-width="3.3"/>
<polyline class="ln" points="436.22,956.29 436.22,1084.52" stroke="#ffa500" stroke-width="3.3"/>
<polyline class="ln" points="455.27,956.29 455.27,1070.8" stroke="#ffa500" stroke-width="3.3"/>
<polyline class="ln" points="277.16,1000.68 278.69,1064.71 280.67,1156.17 282.67,1204.38" stroke="#008000" stroke-width="3.2"/>
<polyline class="ln" points="276.1,1088.34 292.87,1098.24 308.11,1106.63 323.35,1114.25 338.6,1120.35 353.84,1123.4 370,1123.4" stroke="#000000" stroke-width="3.5" stroke-dasharray="46 2"/>
<polyline class="ln" points="276.1,1135.13 288.29,1139.4 300.49,1141.69 315.73,1141.99 330.98,1140.16 346.22,1135.59 361.46,1129.49 370,1125.68" stroke="#000000" stroke-width="3.5" stroke-dasharray="46 2"/>
<polyline class="ln" points="275.7,1023.75 292.8,1018.05 308,1011.4 323.2,1007.98 336.5,1007.98 349.8,1010.45 360,1012.88 375.24,1020.5 390.49,1029.65 405.73,1040.32 420.98,1050.23 436.22,1058.61 448.41,1064.71 455.27,1067.76" stroke="#000000" stroke-width="3.5" stroke-dasharray="46 2"/>
<polyline class="ln" points="275.7,1024.7 289,1020.9 304.2,1021.85 319.4,1026.6 334.6,1032.3 349.8,1039.9 360,1046.41 372.2,1053.27 384.39,1058.61 396.59,1061.66 408.78,1063.18 420.98,1066.23 436.22,1069.28 448.41,1072.02 455.27,1073.09" stroke="#000000" stroke-width="3.5" stroke-dasharray="46 2"/>
<polyline class="ln" points="275.7,1041.8 292.8,1042.18 308,1042.75 323.2,1042.18 334.6,1040.85 349.8,1039.9 360,1040.32 375.24,1041.08 390.49,1045.65 405.73,1050.99 420.98,1057.09 436.22,1061.66 448.41,1065.47 455.27,1067.76" stroke="#000000" stroke-width="3.5" stroke-dasharray="46 2"/>
<polyline class="ln" points="275.7,1052.25 289,1049.78 304.2,1046.55 319.4,1044.08 334.6,1045.6 349.8,1049.4 360,1052.51 375.24,1055.56 387.44,1062.42 399.63,1069.28 411.83,1074.62 424.02,1079.19 436.22,1081.78 448.41,1083.3 455.27,1083.76" stroke="#000000" stroke-width="3.5" stroke-dasharray="46 2"/>
<polyline class="ln" points="454.51,1037.27 452.23,1087.57" stroke="#0000ff" stroke-width="3.3"/>
<polyline class="ln" points="454.51,1095.2 454.51,1156.17" stroke="#008000" stroke-width="3.3"/>
<polyline class="ln" points="276.1,1117.76 292.87,1116.54 308.11,1115.01 323.35,1113.18 338.6,1110.44 353.84,1107.39 370,1104.65" stroke="#000000" stroke-width="3.5"/>
<polyline class="ln" points="370.06,1104.65 375.24,1103.58 390.49,1100.53 405.73,1097.02 420.98,1093.37 436.22,1089.4 455.27,1085.29" stroke="#000000" stroke-width="3.5"/>
<polyline class="ln" points="370.06,1123.4 372.2,1123.4 384.39,1121.11 399.63,1116.54 414.88,1108.15 430.12,1101.29 445.37,1093.67 455.27,1088.34" stroke="#000000" stroke-width="3.5"/>
<polyline class="ln" points="370.06,1125.68 375.24,1125.68 390.49,1119.59 405.73,1113.49 420.98,1106.63 436.22,1099.77 455.27,1095.2" stroke="#000000" stroke-width="3.5"/>
</g>
<text x="111.65" y="1188.1" font-size="24.2" textLength="81.7" lengthAdjust="spacingAndGlyphs" stroke="#000" stroke-width="0.35">i = 120</text>
<g clip-path="url(#cp31)">
<polyline class="ln" points="701.86,1049.46 701.86,1204.38" stroke="#0000ff" stroke-width="3"/>
<polyline class="ln" points="739.52,956.29 738.89,1204.38" stroke="#0000ff" stroke-width="3.2"/>
<polyline class="ln" points="783.72,956.29 783.72,1204.38" stroke="#0000ff" stroke-width="1.5"/>
<polyline class="ln" points="800.21,956.29 802.1,1204.38" stroke="#0000ff" stroke-width="3"/>
<polyline class="ln" points="860.76,956.29 860.76,1204.38" stroke="#0000ff" stroke-width="1.5"/>
<polyline class="ln" points="730.38,956.29 729.75,1204.38" stroke="#008000" stroke-width="3.3"/>
<polyline class="ln" points="757.8,956.29 757.8,1204.38" stroke="#008000" stroke-width="3.2"/>
<polyline class="ln" points="831.95,956.29 832.26,1204.38" stroke="#008000" stroke-width="3"/>
<polyline class="ln" points="765.88,956.29 766.35,1204.38" stroke="#ff0000" stroke-width="3.3"/>
<polyline class="ln" points="793.85,956.29 793.38,1204.38" stroke="#ff0000" stroke-width="3"/>
<polyline class="ln" points="827.39,956.29 826.91,1204.38" stroke="#ff0000" stroke-width="3"/>
<polyline class="ln" points="858.48,956.29 858.48,1204.38" stroke="#ff0000" stroke-width="3"/>
<polyline class="ln" points="718.16,956.29 719.1,1204.38" stroke="#ffa500" stroke-width="3.3"/>
<polyline class="ln" points="735.53,956.29 736.48,1204.38" stroke="#ffa500" stroke-width="1.8"/>
<polyline class="ln" points="715.54,956.29 718.21,1204.38" stroke="#bfbf00" stroke-width="3.3"/>
<polyline class="ln" points="747.13,956.29 747.6,1204.38" stroke="#bfbf00" stroke-width="1.8"/>
<polyline class="ln" points="786.16,956.29 786.16,1204.38" stroke="#bfbf00" stroke-width="3"/>
<polyline class="ln" points="810.16,956.29 809.69,1204.38" stroke="#bfbf00" stroke-width="3.2"/>
<polyline class="ln" points="837.59,956.29 837.59,1204.38" stroke="#bfbf00" stroke-width="3.2"/>
<polyline class="ln" points="701.1,1098.24 710.24,1078.43 719.39,1061.66 730.06,1040.32 740.73,1022.02 752.93,1005.26 765.12,990.01 777.32,977.82 786.46,970.96 795,965.62" stroke="#000000" stroke-width="3.5" stroke-dasharray="46 2"/>
<polyline class="ln" points="788.05,969.43 795.06,965.62 804.82,964.1 815.49,965.62 827.68,970.2 839.88,977.82 852.07,987.73 864.27,998.4 873.41,1006.78 880.27,1012.12" stroke="#000000" stroke-width="3.5" stroke-dasharray="46 2"/>
<polyline class="ln" points="798.02,1204.38 807.87,1186.66 818.54,1166.84 830.73,1143.98 842.93,1127.21 855.12,1115.01 867.32,1105.87 880.27,1097.48" stroke="#000000" stroke-width="3.5" stroke-dasharray="46 2"/>
<polyline class="ln" points="707.3,956.29 704.15,1079.95 701.86,1189.71" stroke="#00bfbf" stroke-width="3.3"/>
<polyline class="ln" points="720.9,956.29 721.69,1204.38" stroke="#00bfbf" stroke-width="3.3"/>
<polyline class="ln" points="777.32,956.29 777.32,1204.38" stroke="#00bfbf" stroke-width="3.3"/>
<polyline class="ln" points="812.14,956.29 811.67,1204.38" stroke="#00bfbf" stroke-width="1.5"/>
<polyline class="ln" points="843.22,956.29 843.7,1204.38" stroke="#00bfbf" stroke-width="3.3"/>
<polyline class="ln" points="714.02,956.29 716.38,1204.38" stroke="#bf00bf" stroke-width="3.3"/>
<polyline class="ln" points="732.41,956.29 730.37,1079.95 728.16,1204.38" stroke="#bf00bf" stroke-width="3.3"/>
<polyline class="ln" points="750.42,956.29 752.16,988.49 754.15,1026.6 754.76,1110.44 754.44,1204.38" stroke="#bf00bf" stroke-width="3.3"/>
<polyline class="ln" points="781.58,956.29 782.21,1204.38" stroke="#bf00bf" stroke-width="3.3"/>
<polyline class="ln" points="819.75,956.29 820.38,1204.38" stroke="#bf00bf" stroke-width="3.3"/>
<polyline class="ln" points="824.94,956.29 824.94,1204.38" stroke="#bf00bf" stroke-width="1.5"/>
<polyline class="ln" points="850.55,956.29 850.55,1204.38" stroke="#bf00bf" stroke-width="3.3"/>
<polyline class="ln" points="877.98,956.29 878.76,1204.38" stroke="#bf00bf" stroke-width="3.5"/>
<polyline class="ln" points="701.86,956.29 701.86,1049.46" stroke="#ffa500" stroke-width="3.3"/>
<polyline class="ln" points="710.23,956.29 711.02,1204.38" stroke="#ffa500" stroke-width="3.3"/>
<polyline class="ln" points="726.25,956.29 726.25,1204.38" stroke="#ffa500" stroke-width="3.2"/>
<polyline class="ln" points="744.54,956.29 745.01,1204.38" stroke="#ffa500" stroke-width="3.2"/>
<polyline class="ln" points="755.36,956.29 755.99,1204.38" stroke="#ffa500" stroke-width="3.3"/>
<polyline class="ln" points="762.07,956.29 762.07,1204.38" stroke="#ffa500" stroke-width="4"/>
<polyline class="ln" points="773.05,956.29 773.05,1204.38" stroke="#ffa500" stroke-width="3.2"/>
<polyline class="ln" points="790.27,956.29 790.27,1204.38" stroke="#ffa500" stroke-width="3.2"/>
<polyline class="ln" points="807.87,956.29 807.87,1204.38" stroke="#ffa500" stroke-width="3.3"/>
<polyline class="ln" points="814.73,956.29 814.73,1204.38" stroke="#ffa500" stroke-width="3.3"/>
<polyline class="ln" points="861.98,956.29 861.98,1204.38" stroke="#ffa500" stroke-width="1.5"/>
<polyline class="ln" points="879.82,956.29 879.82,1070.8" stroke="#ffa500" stroke-width="3.3"/>
<polyline class="ln" points="798.14,956.29 807.87,974.77 818.54,996.11 830.73,1015.93 842.93,1032.7 855.12,1044.89 867.32,1054.04 880.27,1062.42" stroke="#000000" stroke-width="3.5"/>
<polyline class="ln" points="875.46,956.29 879.51,972.48" stroke="#000000" stroke-width="3.5"/>
</g>
<text x="536.65" y="1188.1" font-size="24.2" textLength="81.7" lengthAdjust="spacingAndGlyphs" stroke="#000" stroke-width="0.35">i = 120</text>
<g clip-path="url(#cp40)">
<polyline class="ln" points="287.92,1196.29 292.33,1444.38" stroke="#0000ff" stroke-width="1.8"/>
<polyline class="ln" points="303.9,1196.29 300.43,1444.38" stroke="#0000ff" stroke-width="1.8"/>
<polyline class="ln" points="318.78,1196.29 319.09,1444.38" stroke="#0000ff" stroke-width="3.3"/>
<polyline class="ln" points="355.76,1196.29 353.08,1319.95 351.5,1444.38" stroke="#0000ff" stroke-width="3.3"/>
<polyline class="ln" points="374.89,1196.29 377.73,1444.38" stroke="#0000ff" stroke-width="3.3"/>
<polyline class="ln" points="389.76,1196.29 388.66,1319.95 387.4,1444.38" stroke="#0000ff" stroke-width="3.3"/>
<polyline class="ln" points="426.72,1196.29 428.29,1319.95 429.87,1444.38" stroke="#0000ff" stroke-width="3.3"/>
<polyline class="ln" points="449.24,1196.29 446.89,1335.2 445.31,1444.38" stroke="#0000ff" stroke-width="3.3"/>
<polyline class="ln" points="305.34,1196.29 306.92,1444.38" stroke="#008000" stroke-width="3.3"/>
<polyline class="ln" points="320.77,1196.29 319.99,1444.38" stroke="#008000" stroke-width="3"/>
<polyline class="ln" points="335.83,1196.29 337.4,1444.38" stroke="#008000" stroke-width="3"/>
<polyline class="ln" points="376.06,1196.29 374.48,1319.95 371.8,1444.38" stroke="#008000" stroke-width="2"/>
<polyline class="ln" points="429.98,1196.29 425.55,1304.71 421.63,1444.38" stroke="#008000" stroke-width="3"/>
<polyline class="ln" points="446.32,1196.29 451.46,1274.22 454.51,1339.77" stroke="#008000" stroke-width="3"/>
<polyline class="ln" points="291.37,1196.29 289.48,1444.38" stroke="#ff0000" stroke-width="3.3"/>
<polyline class="ln" points="299.74,1196.29 298.95,1444.38" stroke="#ff0000" stroke-width="3.3"/>
<polyline class="ln" points="321.81,1196.29 322.76,1444.38" stroke="#ff0000" stroke-width="3.3"/>
<polyline class="ln" points="348.05,1306.23 348.05,1370.26" stroke="#ff0000" stroke-width="3"/>
<polyline class="ln" points="387.23,1196.29 392.77,1304.71 398.11,1411.41 400.71,1444.38" stroke="#ff0000" stroke-width="3"/>
<polyline class="ln" points="403.45,1196.29 403.45,1319.95 402.68,1365.68 399.94,1426.66" stroke="#ff0000" stroke-width="3.3"/>
<polyline class="ln" points="433.46,1196.29 434.72,1444.38" stroke="#ff0000" stroke-width="3"/>
<polyline class="ln" points="332.81,1196.29 332.49,1444.38" stroke="#bfbf00" stroke-width="3.3"/>
<polyline class="ln" points="348.05,1196.29 348.05,1306.23" stroke="#bfbf00" stroke-width="3"/>
<polyline class="ln" points="378.59,1196.29 379.06,1444.38" stroke="#bfbf00" stroke-width="3.3"/>
<polyline class="ln" points="393.57,1196.29 391.21,1444.38" stroke="#bfbf00" stroke-width="3.3"/>
<polyline class="ln" points="407.53,1196.29 409.58,1444.38" stroke="#bfbf00" stroke-width="3.3"/>
<polyline class="ln" points="454.51,1350.44 454.51,1373.3" stroke="#bfbf00" stroke-width="3.3"/>
<polyline class="ln" points="276.1,1228.49 288.29,1249.83 300.49,1277.27 312.68,1313.85 321.83,1344.34 327.93,1365.68 337.07,1388.55 347.74,1416.75 355.37,1425.13 364.51,1437.33 371.56,1444.38" stroke="#000000" stroke-width="3.5" stroke-dasharray="46 2"/>
<polyline class="ln" points="276.86,1196.29 276.86,1444.38" stroke="#00bfbf" stroke-width="3"/>
<polyline class="ln" points="330.21,1385.5 330.21,1444.38" stroke="#00bfbf" stroke-width="3.5"/>
<polyline class="ln" points="358.14,1196.29 356.56,1444.38" stroke="#00bfbf" stroke-width="3.3"/>
<polyline class="ln" points="382.86,1196.29 383.17,1335.96" stroke="#00bfbf" stroke-width="3.3"/>
<polyline class="ln" points="415.12,1196.29 418.75,1444.38" stroke="#00bfbf" stroke-width="3.3"/>
<polyline class="ln" points="454.51,1422.09 454.51,1444.38" stroke="#00bfbf" stroke-width="3.3"/>
<polyline class="ln" points="306.69,1196.29 304.3,1289.46 302.01,1380.93 301.2,1444.38" stroke="#bf00bf" stroke-width="3.3"/>
<polyline class="ln" points="312.39,1196.29 311.91,1444.38" stroke="#bf00bf" stroke-width="3.3"/>
<polyline class="ln" points="316.48,1196.29 317.58,1444.38" stroke="#bf00bf" stroke-width="3.3"/>
<polyline class="ln" points="348.05,1370.26 348.05,1428.18" stroke="#bf00bf" stroke-width="3"/>
<polyline class="ln" points="365.73,1196.29 365.73,1444.38" stroke="#bf00bf" stroke-width="3.3"/>
<polyline class="ln" points="383.17,1335.96 383.17,1444.38" stroke="#bf00bf" stroke-width="3.3"/>
<polyline class="ln" points="422.66,1196.29 420.21,1258.98 418.23,1319.95 416.66,1444.38" stroke="#bf00bf" stroke-width="3.3"/>
<polyline class="ln" points="436.51,1196.29 436.98,1319.95 437.74,1386.26" stroke="#bf00bf" stroke-width="3.3"/>
<polyline class="ln" points="449.99,1196.29 452.99,1243.73 455.27,1289.46" stroke="#bf00bf" stroke-width="3.3"/>
<polyline class="ln" points="290.54,1196.29 293.21,1444.38" stroke="#ffa500" stroke-width="3"/>
<polyline class="ln" points="294.07,1196.29 295.17,1444.38" stroke="#ffa500" stroke-width="3"/>
<polyline class="ln" points="297.76,1196.29 296.81,1444.38" stroke="#ffa500" stroke-width="3"/>
<polyline class="ln" points="324.07,1196.29 326.75,1444.38" stroke="#ffa500" stroke-width="3.4"/>
<polyline class="ln" points="330.21,1196.29 330.21,1385.5" stroke="#ffa500" stroke-width="3.4"/>
<polyline class="ln" points="348.05,1428.18 348.05,1444.38" stroke="#ffa500" stroke-width="3"/>
<polyline class="ln" points="374.02,1196.29 374.02,1444.38" stroke="#ffa500" stroke-width="3.3"/>
<polyline class="ln" points="399.31,1196.29 399.94,1304.71 401.92,1396.17 405.25,1444.38" stroke="#ffa500" stroke-width="3.3"/>
<polyline class="ln" points="418.69,1196.29 418.69,1258.98" stroke="#ffa500" stroke-width="3.3"/>
<polyline class="ln" points="454.96,1196.29 452.23,1274.22 449.94,1350.44 448.35,1444.38" stroke="#ffa500" stroke-width="3"/>
<polyline class="ln" points="454.51,1289.46 454.51,1350.44" stroke="#ffa500" stroke-width="3.3"/>
<polyline class="ln" points="454.51,1373.3 454.51,1422.09" stroke="#ffa500" stroke-width="3.3"/>
<polyline class="ln" points="394.99,1196.29 401.16,1211.72 410.3,1231.54 420.98,1255.93 431.65,1274.22 442.32,1287.18 451.46,1297.09 455.27,1301.66" stroke="#000000" stroke-width="3.5" stroke-dasharray="46 2"/>
<polyline class="ln" points="407.36,1196.29 420.98,1214.77 433.17,1237.63 445.37,1258.98 455.27,1271.17" stroke="#000000" stroke-width="5" stroke-dasharray="46 2"/>
<polyline class="ln" points="376.2,1444.38 390.49,1435.8 401.16,1423.61 413.35,1408.37 425.55,1391.6 437.74,1374.83 448.41,1362.63 455.27,1356.54" stroke="#000000" stroke-width="3.5"/>
<polyline class="ln" points="410.81,1444.38 424.02,1423.61 436.22,1402.27 446.89,1382.45 455.27,1370.26" stroke="#000000" stroke-width="3.5"/>
<polyline class="ln" points="423.22,1444.38 436.22,1422.09 445.37,1400.74 451.46,1385.5 455.27,1378.64" stroke="#000000" stroke-width="3.5"/>
</g>
<text x="111.65" y="1428.1" font-size="24.2" textLength="81.7" lengthAdjust="spacingAndGlyphs" stroke="#000" stroke-width="0.35">i = 150</text>
<g clip-path="url(#cp41)">
<polyline class="ln" points="723.81,1196.29 723.81,1444.38" stroke="#0000ff" stroke-width="1.2"/>
<polyline class="ln" points="719.85,1196.29 719.85,1444.38" stroke="#008000" stroke-width="3.4"/>
<polyline class="ln" points="768.93,1196.29 769.4,1444.38" stroke="#008000" stroke-width="3"/>
<polyline class="ln" points="808.17,1196.29 808.17,1444.38" stroke="#008000" stroke-width="3.6"/>
<polyline class="ln" points="839.57,1196.29 839.57,1444.38" stroke="#008000" stroke-width="1.5"/>
<polyline class="ln" points="727.77,1196.29 727.77,1444.38" stroke="#ff0000" stroke-width="3.3"/>
<polyline class="ln" points="853.9,1196.29 853.9,1444.38" stroke="#ff0000" stroke-width="3"/>
<polyline class="ln" points="873.41,1196.29 873.41,1444.38" stroke="#ff0000" stroke-width="3"/>
<polyline class="ln" points="722.13,1196.29 722.13,1444.38" stroke="#bfbf00" stroke-width="3.3"/>
<polyline class="ln" points="760.09,1196.29 760.4,1444.38" stroke="#bfbf00" stroke-width="3.3"/>
<polyline class="ln" points="831.49,1196.29 831.49,1444.38" stroke="#bfbf00" stroke-width="3"/>
<polyline class="ln" points="786.27,1444.38 792.56,1429.71" stroke="#000000" stroke-width="3.5" stroke-dasharray="46 2"/>
<polyline class="ln" points="786.59,1444.38 794.15,1423.61 801.77,1406.84 809.39,1387.02 818.54,1367.21 823.11,1356.54 830.73,1342.82 838.35,1330.62 844.45,1323.76 850.55,1319.95" stroke="#000000" stroke-width="3.5" stroke-dasharray="46 2"/>
<polyline class="ln" points="746.38,1196.29 746.06,1444.38" stroke="#00bfbf" stroke-width="1.5"/>
<polyline class="ln" points="757.49,1196.29 757.81,1444.38" stroke="#00bfbf" stroke-width="3"/>
<polyline class="ln" points="793.78,1196.29 793.78,1444.38" stroke="#00bfbf" stroke-width="3"/>
<polyline class="ln" points="836.07,1196.29 836.07,1444.38" stroke="#00bfbf" stroke-width="1.5"/>
<polyline class="ln" points="856.65,1196.29 856.65,1444.38" stroke="#00bfbf" stroke-width="3.3"/>
<polyline class="ln" points="879.21,1196.29 879.21,1444.38" stroke="#00bfbf" stroke-width="3"/>
<polyline class="ln" points="737.38,1196.29 737.38,1444.38" stroke="#bf00bf" stroke-width="3.3"/>
<polyline class="ln" points="763.89,1196.29 764.37,1444.38" stroke="#bf00bf" stroke-width="3.3"/>
<polyline class="ln" points="773.05,1196.29 773.05,1444.38" stroke="#bf00bf" stroke-width="3.3"/>
<polyline class="ln" points="790.42,1196.29 790.58,1444.38" stroke="#bf00bf" stroke-width="3"/>
<polyline class="ln" points="799.48,1196.29 799.48,1444.38" stroke="#bf00bf" stroke-width="1.5"/>
<polyline class="ln" points="815.48,1196.29 815.8,1444.38" stroke="#bf00bf" stroke-width="3"/>
<polyline class="ln" points="860,1196.29 860,1444.38" stroke="#bf00bf" stroke-width="3.3"/>
<polyline class="ln" points="701.86,1196.29 701.86,1444.38" stroke="#ffa500" stroke-width="3.3"/>
<polyline class="ln" points="709.93,1196.29 710.25,1444.38" stroke="#ffa500" stroke-width="3.3"/>
<polyline class="ln" points="725.79,1196.29 725.79,1444.38" stroke="#ffa500" stroke-width="3.3"/>
<polyline class="ln" points="747.59,1196.29 747.59,1444.38" stroke="#ffa500" stroke-width="3.3"/>
<polyline class="ln" points="754.76,1196.29 754.76,1444.38" stroke="#ffa500" stroke-width="3.3"/>
<polyline class="ln" points="761.31,1196.29 761.62,1444.38" stroke="#ffa500" stroke-width="2"/>
<polyline class="ln" points="781.89,1196.29 782.2,1444.38" stroke="#ffa500" stroke-width="3.3"/>
<polyline class="ln" points="801.46,1196.29 801.46,1444.38" stroke="#ffa500" stroke-width="3.3"/>
<polyline class="ln" points="819.76,1196.29 819.76,1444.38" stroke="#ffa500" stroke-width="3.3"/>
<polyline class="ln" points="825.85,1196.29 825.85,1444.38" stroke="#ffa500" stroke-width="3.3"/>
<polyline class="ln" points="837.59,1196.29 837.59,1444.38" stroke="#ffa500" stroke-width="3.3"/>
<polyline class="ln" points="843.69,1196.29 843.69,1444.38" stroke="#ffa500" stroke-width="3"/>
<polyline class="ln" points="861.98,1196.29 861.98,1444.38" stroke="#ffa500" stroke-width="1.5"/>
<polyline class="ln" points="785.92,1196.29 794.15,1211.72 801.77,1230.01 809.39,1248.3 818.54,1269.65 826.16,1286.41 835.3,1301.66 842.93,1313.85 850.55,1319.95 861.22,1328.34 870.37,1330.62 880.27,1332.15" stroke="#000000" stroke-width="3.5"/>
<polyline class="ln" points="858.17,1313.85 861.22,1311.57 880.27,1307.45" stroke="#000000" stroke-width="3.5"/>
<polyline class="ln" points="864.86,1196.29 873.41,1210.2 880.27,1223.91" stroke="#000000" stroke-width="4.2"/>
</g>
<text x="536.65" y="1428.1" font-size="24.2" textLength="81.7" lengthAdjust="spacingAndGlyphs" stroke="#000" stroke-width="0.35">i = 150</text>
<path d="M185.5 480.5v-5.5M185.5 240.5v5.5M270.5 480.5v-5.5M270.5 240.5v5.5M355.5 480.5v-5.5M355.5 240.5v5.5M440.5 480.5v-5.5M440.5 240.5v5.5M100.5 300.5h5.5M525.5 300.5h-5.5M100.5 360.5h5.5M525.5 360.5h-5.5M100.5 420.5h5.5M525.5 420.5h-5.5" stroke="#000" stroke-width="0.8" fill="none"/>
<rect x="100.5" y="240.5" width="425" height="240" fill="none" stroke="#000" stroke-width="1.3"/>
<path d="M610.5 480.5v-5.5M610.5 240.5v5.5M695.5 480.5v-5.5M695.5 240.5v5.5M780.5 480.5v-5.5M780.5 240.5v5.5M865.5 480.5v-5.5M865.5 240.5v5.5M525.5 300.5h5.5M950.5 300.5h-5.5M525.5 360.5h5.5M950.5 360.5h-5.5M525.5 420.5h5.5M950.5 420.5h-5.5" stroke="#000" stroke-width="0.8" fill="none"/>
<rect x="525.5" y="240.5" width="425" height="240" fill="none" stroke="#000" stroke-width="1.3"/>
<path d="M185.5 720.5v-5.5M185.5 480.5v5.5M270.5 720.5v-5.5M270.5 480.5v5.5M355.5 720.5v-5.5M355.5 480.5v5.5M440.5 720.5v-5.5M440.5 480.5v5.5M100.5 540.5h5.5M525.5 540.5h-5.5M100.5 600.5h5.5M525.5 600.5h-5.5M100.5 660.5h5.5M525.5 660.5h-5.5" stroke="#000" stroke-width="0.8" fill="none"/>
<rect x="100.5" y="480.5" width="425" height="240" fill="none" stroke="#000" stroke-width="1.3"/>
<path d="M610.5 720.5v-5.5M610.5 480.5v5.5M695.5 720.5v-5.5M695.5 480.5v5.5M780.5 720.5v-5.5M780.5 480.5v5.5M865.5 720.5v-5.5M865.5 480.5v5.5M525.5 540.5h5.5M950.5 540.5h-5.5M525.5 600.5h5.5M950.5 600.5h-5.5M525.5 660.5h5.5M950.5 660.5h-5.5" stroke="#000" stroke-width="0.8" fill="none"/>
<rect x="525.5" y="480.5" width="425" height="240" fill="none" stroke="#000" stroke-width="1.3"/>
<path d="M185.5 960.5v-5.5M185.5 720.5v5.5M270.5 960.5v-5.5M270.5 720.5v5.5M355.5 960.5v-5.5M355.5 720.5v5.5M440.5 960.5v-5.5M440.5 720.5v5.5M100.5 780.5h5.5M525.5 780.5h-5.5M100.5 840.5h5.5M525.5 840.5h-5.5M100.5 900.5h5.5M525.5 900.5h-5.5" stroke="#000" stroke-width="0.8" fill="none"/>
<rect x="100.5" y="720.5" width="425" height="240" fill="none" stroke="#000" stroke-width="1.3"/>
<path d="M610.5 960.5v-5.5M610.5 720.5v5.5M695.5 960.5v-5.5M695.5 720.5v5.5M780.5 960.5v-5.5M780.5 720.5v5.5M865.5 960.5v-5.5M865.5 720.5v5.5M525.5 780.5h5.5M950.5 780.5h-5.5M525.5 840.5h5.5M950.5 840.5h-5.5M525.5 900.5h5.5M950.5 900.5h-5.5" stroke="#000" stroke-width="0.8" fill="none"/>
<rect x="525.5" y="720.5" width="425" height="240" fill="none" stroke="#000" stroke-width="1.3"/>
<path d="M185.5 1200.5v-5.5M185.5 960.5v5.5M270.5 1200.5v-5.5M270.5 960.5v5.5M355.5 1200.5v-5.5M355.5 960.5v5.5M440.5 1200.5v-5.5M440.5 960.5v5.5M100.5 1020.5h5.5M525.5 1020.5h-5.5M100.5 1080.5h5.5M525.5 1080.5h-5.5M100.5 1140.5h5.5M525.5 1140.5h-5.5" stroke="#000" stroke-width="0.8" fill="none"/>
<rect x="100.5" y="960.5" width="425" height="240" fill="none" stroke="#000" stroke-width="1.3"/>
<path d="M610.5 1200.5v-5.5M610.5 960.5v5.5M695.5 1200.5v-5.5M695.5 960.5v5.5M780.5 1200.5v-5.5M780.5 960.5v5.5M865.5 1200.5v-5.5M865.5 960.5v5.5M525.5 1020.5h5.5M950.5 1020.5h-5.5M525.5 1080.5h5.5M950.5 1080.5h-5.5M525.5 1140.5h5.5M950.5 1140.5h-5.5" stroke="#000" stroke-width="0.8" fill="none"/>
<rect x="525.5" y="960.5" width="425" height="240" fill="none" stroke="#000" stroke-width="1.3"/>
<path d="M185.5 1440.5v-5.5M185.5 1200.5v5.5M270.5 1440.5v-5.5M270.5 1200.5v5.5M355.5 1440.5v-5.5M355.5 1200.5v5.5M440.5 1440.5v-5.5M440.5 1200.5v5.5M100.5 1260.5h5.5M525.5 1260.5h-5.5M100.5 1320.5h5.5M525.5 1320.5h-5.5M100.5 1380.5h5.5M525.5 1380.5h-5.5" stroke="#000" stroke-width="0.8" fill="none"/>
<rect x="100.5" y="1200.5" width="425" height="240" fill="none" stroke="#000" stroke-width="1.3"/>
<path d="M610.5 1440.5v-5.5M610.5 1200.5v5.5M695.5 1440.5v-5.5M695.5 1200.5v5.5M780.5 1440.5v-5.5M780.5 1200.5v5.5M865.5 1440.5v-5.5M865.5 1200.5v5.5M525.5 1260.5h5.5M950.5 1260.5h-5.5M525.5 1320.5h5.5M950.5 1320.5h-5.5M525.5 1380.5h5.5M950.5 1380.5h-5.5" stroke="#000" stroke-width="0.8" fill="none"/>
<rect x="525.5" y="1200.5" width="425" height="240" fill="none" stroke="#000" stroke-width="1.3"/>
<text x="61.06" y="250.2" font-size="29" textLength="34.71" lengthAdjust="spacingAndGlyphs">10</text>
<text x="79.1" y="310.2" font-size="29" textLength="16.74" lengthAdjust="spacingAndGlyphs">5</text>
<text x="79.27" y="370.2" font-size="29" textLength="16.4" lengthAdjust="spacingAndGlyphs">0</text>
<text x="79.1" y="430.2" font-size="29" textLength="16.74" lengthAdjust="spacingAndGlyphs">5</text><rect x="58.9" y="419.2" width="16.8" height="2.2" fill="#000"/>
<text x="61.06" y="490.2" font-size="29" textLength="34.71" lengthAdjust="spacingAndGlyphs">10</text><rect x="41" y="479.2" width="16.8" height="2.2" fill="#000"/>
<text x="79.1" y="550.2" font-size="29" textLength="16.74" lengthAdjust="spacingAndGlyphs">5</text>
<text x="79.27" y="610.2" font-size="29" textLength="16.4" lengthAdjust="spacingAndGlyphs">0</text>
<text x="79.1" y="670.2" font-size="29" textLength="16.74" lengthAdjust="spacingAndGlyphs">5</text><rect x="58.9" y="659.2" width="16.8" height="2.2" fill="#000"/>
<text x="61.06" y="730.2" font-size="29" textLength="34.71" lengthAdjust="spacingAndGlyphs">10</text><rect x="41" y="719.2" width="16.8" height="2.2" fill="#000"/>
<text x="79.1" y="790.2" font-size="29" textLength="16.74" lengthAdjust="spacingAndGlyphs">5</text>
<text x="79.27" y="850.2" font-size="29" textLength="16.4" lengthAdjust="spacingAndGlyphs">0</text>
<text x="79.1" y="910.2" font-size="29" textLength="16.74" lengthAdjust="spacingAndGlyphs">5</text><rect x="58.9" y="899.2" width="16.8" height="2.2" fill="#000"/>
<text x="61.06" y="970.2" font-size="29" textLength="34.71" lengthAdjust="spacingAndGlyphs">10</text><rect x="41" y="959.2" width="16.8" height="2.2" fill="#000"/>
<text x="79.1" y="1030.2" font-size="29" textLength="16.74" lengthAdjust="spacingAndGlyphs">5</text>
<text x="79.27" y="1090.2" font-size="29" textLength="16.4" lengthAdjust="spacingAndGlyphs">0</text>
<text x="79.1" y="1150.2" font-size="29" textLength="16.74" lengthAdjust="spacingAndGlyphs">5</text><rect x="58.9" y="1139.2" width="16.8" height="2.2" fill="#000"/>
<text x="61.06" y="1210.2" font-size="29" textLength="34.71" lengthAdjust="spacingAndGlyphs">10</text><rect x="41" y="1199.2" width="16.8" height="2.2" fill="#000"/>
<text x="79.1" y="1270.2" font-size="29" textLength="16.74" lengthAdjust="spacingAndGlyphs">5</text>
<text x="79.27" y="1330.2" font-size="29" textLength="16.4" lengthAdjust="spacingAndGlyphs">0</text>
<text x="79.1" y="1390.2" font-size="29" textLength="16.74" lengthAdjust="spacingAndGlyphs">5</text><rect x="58.9" y="1379.2" width="16.8" height="2.2" fill="#000"/>
<text x="61.06" y="1450.2" font-size="29" textLength="34.71" lengthAdjust="spacingAndGlyphs">10</text><rect x="41" y="1439.2" width="16.8" height="2.2" fill="#000"/>
<text x="92.62" y="1465.8" font-size="29" textLength="16.4" lengthAdjust="spacingAndGlyphs">0</text>
<text x="177.1" y="1465.8" font-size="29" textLength="17.29" lengthAdjust="spacingAndGlyphs">2</text>
<text x="263.09" y="1465.8" font-size="29" textLength="15.59" lengthAdjust="spacingAndGlyphs">4</text>
<text x="347.11" y="1465.8" font-size="29" textLength="17.1" lengthAdjust="spacingAndGlyphs">6</text>
<text x="432.45" y="1465.8" font-size="29" textLength="16.74" lengthAdjust="spacingAndGlyphs">8</text>
<text x="506.76" y="1465.8" font-size="29" textLength="34.71" lengthAdjust="spacingAndGlyphs">10</text>
<text x="517.62" y="1465.8" font-size="29" textLength="16.4" lengthAdjust="spacingAndGlyphs">0</text>
<text x="602.1" y="1465.8" font-size="29" textLength="17.29" lengthAdjust="spacingAndGlyphs">2</text>
<text x="688.09" y="1465.8" font-size="29" textLength="15.59" lengthAdjust="spacingAndGlyphs">4</text>
<text x="772.11" y="1465.8" font-size="29" textLength="17.1" lengthAdjust="spacingAndGlyphs">6</text>
<text x="857.45" y="1465.8" font-size="29" textLength="16.74" lengthAdjust="spacingAndGlyphs">8</text>
<text x="931.76" y="1465.8" font-size="29" textLength="34.71" lengthAdjust="spacingAndGlyphs">10</text>
</svg></body></html>
